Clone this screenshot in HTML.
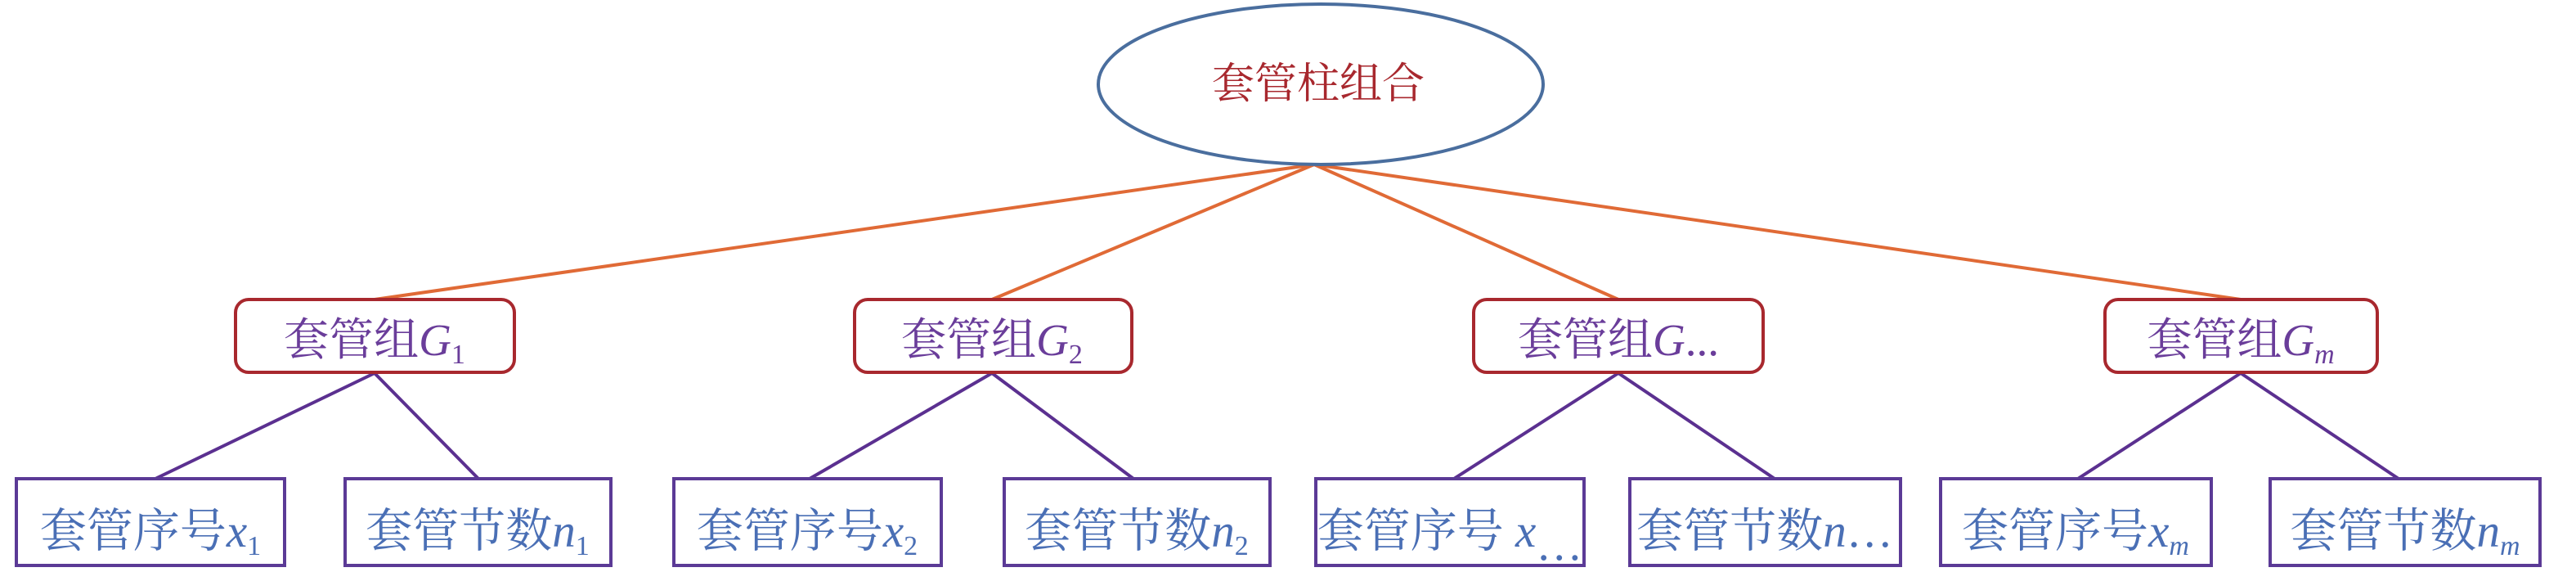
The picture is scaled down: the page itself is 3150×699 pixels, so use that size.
<!DOCTYPE html>
<html><head><meta charset="utf-8"><style>
html,body{margin:0;padding:0;background:#fff;}
svg{display:block;}
.cn{font-family:"Liberation Serif","Noto Serif CJK SC",serif;}
.m{font-family:"Liberation Serif",serif;font-style:italic;}
</style></head><body>
<svg width="3150" height="699" viewBox="0 0 3150 699" xmlns="http://www.w3.org/2000/svg">
<g stroke="#e06a36" stroke-width="4">
<line x1="1607" y1="201" x2="458" y2="366"/>
<line x1="1607" y1="201" x2="1213" y2="366"/>
<line x1="1607" y1="201" x2="1979" y2="366"/>
<line x1="1607" y1="201" x2="2740" y2="366"/>
</g>
<ellipse cx="1615" cy="103" rx="272" ry="98" fill="#fff" stroke="#4a6e9e" stroke-width="4"/>
<text x="1612" y="120" text-anchor="middle" class="cn" font-size="52" fill="#a8282e">套管柱组合</text>
<g stroke="#5b3090" stroke-width="4">
<line x1="458" y1="456" x2="190" y2="585"/><line x1="458" y1="456" x2="585" y2="585"/>
<line x1="1213" y1="456" x2="990" y2="585"/><line x1="1213" y1="456" x2="1386" y2="585"/>
<line x1="1979" y1="456" x2="1778" y2="585"/><line x1="1979" y1="456" x2="2170" y2="585"/>
<line x1="2740" y1="456" x2="2541" y2="585"/><line x1="2740" y1="456" x2="2933" y2="585"/>
</g>
<g fill="#fff" stroke="#a8282e" stroke-width="4">
<rect x="288" y="366" width="341" height="89" rx="16"/>
<rect x="1045" y="366" width="339" height="89" rx="16"/>
<rect x="1802" y="366" width="354" height="89" rx="16"/>
<rect x="2574" y="366" width="333" height="89" rx="16"/>
</g>
<g fill="#6a3d9a" font-size="55">
<text x="458" y="434" text-anchor="middle"><tspan class="cn">套管组</tspan><tspan class="m">G</tspan><tspan class="cn" font-size="34" dy="10">1</tspan></text>
<text x="1213" y="434" text-anchor="middle"><tspan class="cn">套管组</tspan><tspan class="m">G</tspan><tspan class="cn" font-size="34" dy="10">2</tspan></text>
<text x="1979" y="434" text-anchor="middle"><tspan class="cn">套管组</tspan><tspan class="m">G</tspan><tspan class="cn">...</tspan></text>
<text x="2740" y="434" text-anchor="middle"><tspan class="cn">套管组</tspan><tspan class="m">G</tspan><tspan class="m" font-size="34" dy="10">m</tspan></text>
</g>
<g fill="#fff" stroke="#5b3a96" stroke-width="4">
<rect x="20" y="585" width="328" height="106"/>
<rect x="422" y="585" width="325" height="106"/>
<rect x="824" y="585" width="327" height="106"/>
<rect x="1228" y="585" width="325" height="106"/>
<rect x="1609" y="585" width="328" height="106"/>
<rect x="1993" y="585" width="331" height="106"/>
<rect x="2373" y="585" width="331" height="106"/>
<rect x="2776" y="585" width="330" height="106"/>
</g>
<g fill="#4a6fb5" font-size="57">
<text x="184" y="668" text-anchor="middle"><tspan class="cn">套管序号</tspan><tspan class="m">x</tspan><tspan class="cn" font-size="34" dy="10">1</tspan></text>
<text x="584" y="668" text-anchor="middle"><tspan class="cn">套管节数</tspan><tspan class="m">n</tspan><tspan class="cn" font-size="34" dy="10">1</tspan></text>
<text x="987" y="668" text-anchor="middle"><tspan class="cn">套管序号</tspan><tspan class="m">x</tspan><tspan class="cn" font-size="34" dy="10">2</tspan></text>
<text x="1390" y="668" text-anchor="middle"><tspan class="cn">套管节数</tspan><tspan class="m">n</tspan><tspan class="cn" font-size="34" dy="10">2</tspan></text>
<text x="1773" y="668" text-anchor="middle"><tspan class="cn">套管序号 </tspan><tspan class="m">x</tspan><tspan class="cn" dy="16">…</tspan></text>
<text x="2158" y="668" text-anchor="middle"><tspan class="cn">套管节数</tspan><tspan class="m">n</tspan><tspan class="cn">…</tspan></text>
<text x="2538" y="668" text-anchor="middle"><tspan class="cn">套管序号</tspan><tspan class="m">x</tspan><tspan class="m" font-size="34" dy="10">m</tspan></text>
<text x="2941" y="668" text-anchor="middle"><tspan class="cn">套管节数</tspan><tspan class="m">n</tspan><tspan class="m" font-size="34" dy="10">m</tspan></text>
</g>
</svg>
</body></html>
